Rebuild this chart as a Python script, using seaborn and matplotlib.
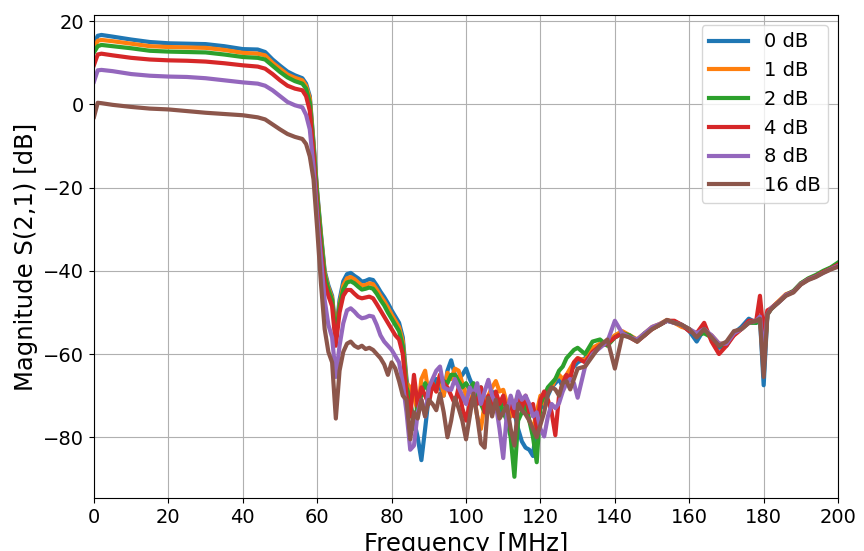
import numpy as np
import pandas as pd
import matplotlib
matplotlib.use("Agg")
import matplotlib.pyplot as plt
import seaborn as sns

# Frequency grid [MHz]
freq = ([0, 1, 2, 5, 10, 15, 20, 25, 30, 35, 40, 44, 46, 48, 50, 52, 54, 56]
        + list(range(57, 131))
        + list(range(132, 179, 2))
        + [179, 180, 181]
        + list(range(182, 201, 2)))

labels = ["0 dB", "1 dB", "2 dB", "4 dB", "8 dB", "16 dB"]

s_0db = [
    # passband 0..56
    14.5, 16.5, 16.7, 16.3, 15.6, 15.0, 14.7, 14.6, 14.5, 14.0, 13.3, 13.2, 12.6, 10.8, 9.3, 7.9, 7.0, 6.3,
    # 57..84
    5.0, 2.0, -9, -21, -31, -40, -43.5, -46, -55, -47, -42.5, -40.8, -40.5, -41.2, -41.8, -42.6, -42.4, -42.0,
    -42.2, -43.5, -45, -46.3, -47.8, -49.5, -51, -52.5, -56, -66,
    # 85..130
    -72, -76, -80, -85.5, -78, -70, -68, -66, -68, -70, -64, -61.5, -65, -66, -65, -63.5, -66, -68, -70, -68,
    -71, -73, -69, -72, -74, -71, -73, -75, -74, -78, -81, -82.5, -83, -84.5, -76, -71, -73, -70, -68, -67,
    -66, -68, -66, -64, -63, -62,
    # 132..178 step 2
    -61, -59, -58, -57.5, -56, -55, -56, -56.5, -55.5, -53.8, -53, -52, -52.5, -53, -54.5, -57, -54, -56,
    -58.5, -58, -55, -53.5, -51.5, -52.5,
    # 179..181
    -51.5, -67.5, -50.5,
    # 182..200 step 2
    -49, -47.5, -45.8, -45, -43, -42, -41.3, -40.3, -39.5, -38.5,
]

s_1db = [
    13.5, 15.3, 15.5, 15.2, 14.6, 14.0, 13.8, 13.7, 13.6, 13.1, 12.4, 12.2, 11.8, 10.0, 8.6, 7.2, 6.4, 5.8,
    4.5, 1.5, -9.5, -21.5, -31.5, -40.5, -44, -46.5, -55.5, -48, -43.5, -41.8, -41.5, -42, -42.8, -43.5,
    -43.4, -43, -43.2, -44.5, -46, -47.3, -48.8, -50.5, -52, -53.5, -57, -67,
    -68, -70, -74, -66, -64, -70, -67, -69, -65, -70, -64.5, -66, -63.5, -64, -67, -70, -72, -69, -75, -78,
    -72, -70, -68, -66.5, -69, -68.6, -72, -75, -72, -70, -73, -71, -76, -78, -74, -70, -72, -69, -68, -66,
    -65, -66, -65, -63.5, -62, -61,
    -61.5, -58.5, -57.5, -57, -55.5, -54.5, -55.5, -56.5, -55, -53.5, -52.8, -51.8, -52.5, -53.5, -54,
    -55.5, -54.5, -55.5, -57.5, -57.5, -55.5, -54, -52.5, -52,
    -51, -63, -50.5,
    -49, -47.3, -45.6, -45, -43, -42, -41.2, -40.2, -39.3, -38.3,
]

s_2db = [
    12.5, 14.0, 14.3, 14.0, 13.5, 12.9, 12.7, 12.6, 12.5, 12.0, 11.4, 11.2, 10.8, 9.3, 7.8, 6.5, 5.6, 5.0,
    3.8, 0.5, -10, -22, -32, -41, -44.5, -47, -56, -48.5, -44.5, -42.8, -42.5, -43, -43.8, -44.5, -44.3,
    -44, -44.3, -45.5, -47, -48.3, -50, -51.5, -53, -54.5, -58, -68,
    -71, -78, -72, -70, -67, -69, -68, -68, -66, -66.5, -67, -65, -65, -66.5, -68, -67, -68.5, -67, -70, -72,
    -74, -72, -70, -73, -71, -74, -76, -80, -89.5, -76, -74, -72, -76, -80, -86, -72, -70, -68, -67, -66,
    -64, -63, -61, -60, -59, -58.5,
    -60, -57, -56.5, -58, -56, -55, -55.5, -57, -55, -54, -53, -52, -52.2, -53, -54, -55.5, -55, -56, -58,
    -57.5, -55, -54, -52.5, -52.5,
    -51, -62, -50.5,
    -49.2, -47.5, -45.8, -44.8, -43, -41.8, -41, -40, -39.2, -38,
]

s_4db = [
    9.5, 12.0, 12.2, 11.8, 11.2, 10.8, 10.6, 10.5, 10.3, 9.9, 9.4, 9.1, 8.6, 7.3, 5.8, 4.5, 3.8, 3.4,
    2.0, -1.5, -12, -25, -35, -43, -46, -48.5, -58, -50, -46, -44.6, -44.6, -45.5, -46.3, -46.6, -46.4,
    -46.2, -46.6, -48, -49.5, -51, -52.5, -54, -55.5, -56.5, -60, -70,
    -75, -65, -72.5, -68, -70, -72, -67, -69, -65, -67, -68, -70, -72, -68, -73, -76, -72, -70, -72, -68,
    -74, -70, -73, -69, -72, -70, -74, -72, -75, -71, -73, -70, -74, -72, -78, -71, -69, -71, -74, -79.5,
    -70, -67, -65, -66, -62, -61,
    -62, -59.5, -58, -57.5, -56, -55, -56, -57, -55.5, -54, -53, -52, -52, -53, -54.5, -55, -52.5, -57,
    -60, -58, -55.5, -54, -52, -52,
    -46, -55, -49.5,
    -49, -47.5, -45.8, -45, -43.2, -42, -41.3, -40.3, -39.5, -38.5,
]

s_8db = [
    5.5, 8.2, 8.3, 8.0, 7.3, 6.9, 6.7, 6.6, 6.3, 5.8, 5.3, 5.0, 4.5, 3.4, 2.0, 0.6, -0.2, -0.7,
    -2.5, -6, -15, -27, -37, -47, -53, -56, -65.5, -58, -52.6, -49.5, -49, -49.8, -50.8, -51.4, -51.2,
    -50.8, -51, -53, -55.5, -57, -58, -59, -60.5, -62, -67, -74,
    -83, -82, -74, -71, -75, -68, -66, -64, -63, -68, -68.5, -68.6, -66, -68, -70, -72, -68, -70, -67, -72,
    -69, -66.2, -70, -72, -78, -85, -74, -70, -73, -69, -71, -70, -72, -75, -74, -78, -79.8, -75, -72, -73,
    -71.8, -69, -67, -66, -67, -70.5,
    -63, -60, -58.5, -57, -52, -55, -56, -56.5, -55, -53.5, -52.8, -52, -52.5, -53, -54, -55, -54, -55.5,
    -57.5, -57.5, -55, -54, -52.5, -52,
    -51, -60, -50.5,
    -49, -47.6, -45.8, -45.1, -43.2, -42.1, -41.4, -40.5, -39.6, -38.8,
]

s_16db = [
    -3.0, 0.4, 0.3, -0.1, -0.6, -1.0, -1.2, -1.6, -2.0, -2.3, -2.6, -3.1, -3.6, -4.8, -6.0, -7.1, -7.8, -8.3,
    -9.5, -12.5, -18, -30, -43, -54, -59.5, -62, -75.5, -64, -59.5, -57.5, -57, -58, -58.5, -58, -58.8,
    -58.5, -59, -60, -61, -62.5, -65, -62, -63.5, -66.5, -70, -71,
    -80.5, -74, -75.5, -71, -75, -71, -72, -73.5, -69.5, -74, -80, -76, -70.5, -73, -76, -80.5, -75, -69.5,
    -75, -81.5, -82.5, -70.5, -75, -71, -75.5, -74, -72.5, -78, -82, -72, -73.5, -74.5, -76, -78, -80, -77,
    -74, -69.5, -68, -68.5, -70, -67, -66.5, -68.5, -66, -63.5,
    -63, -60.5, -58, -56.5, -63.5, -55.5, -56, -57, -55.5, -54, -53, -51.8, -52.5, -53, -54, -56, -54, -56,
    -58, -57, -54.5, -54, -52.5, -52,
    -51.5, -65.5, -50.5,
    -49.2, -47.6, -46, -45.2, -43.3, -42.2, -41.5, -40.5, -39.7, -39,
]

series = [s_0db, s_1db, s_2db, s_4db, s_8db, s_16db]
for s in series:
    assert len(s) == len(freq), (len(s), len(freq))

df = pd.concat(
    [pd.DataFrame({"Frequency": freq, "Magnitude": s, "Atten": lab}) for s, lab in zip(series, labels)],
    ignore_index=True,
)

plt.rcParams["font.family"] = ["DejaVu Sans"]
fig, ax = plt.subplots(figsize=(8.64, 5.51), dpi=100)
fig.subplots_adjust(left=0.1088, right=0.970, top=0.9728, bottom=0.0962)

palette = sns.color_palette("tab10", 6)
sns.lineplot(data=df, x="Frequency", y="Magnitude", hue="Atten", hue_order=labels,
             palette=palette, linewidth=3, estimator=None, sort=True, ax=ax)

ax.set_xlim(0, 200)
ax.set_ylim(-94.6, 21.5)
ax.set_xticks(range(0, 201, 20))
ax.set_yticks([-80, -60, -40, -20, 0, 20])
ax.grid(True, color="#b0b0b0", linewidth=0.8)
ax.tick_params(labelsize=14)
ax.set_xlabel("Frequency [MHz]", fontsize=17.5)
ax.set_ylabel("Magnitude S(2,1) [dB]", fontsize=17.5)

handles, labs = ax.get_legend_handles_labels()
ax.legend(handles, labs, loc="upper right", fontsize=14, title=None)

fig.savefig("out.png", dpi=100)
